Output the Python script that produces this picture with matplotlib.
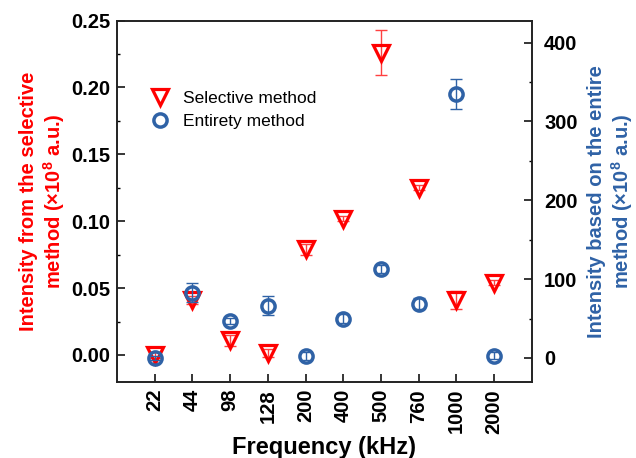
import numpy as np
import matplotlib
matplotlib.use("Agg")
import matplotlib.pyplot as plt
from matplotlib.lines import Line2D
from matplotlib.ticker import MultipleLocator, FormatStrFormatter

plt.rcParams['font.family'] = ['Liberation Sans', 'DejaVu Sans']
plt.rcParams['mathtext.fontset'] = 'custom'
plt.rcParams['mathtext.rm'] = 'Liberation Sans:bold'
plt.rcParams['mathtext.bf'] = 'Liberation Sans:bold'

# Frequencies (categorical) and measured intensities
freqs = ['22', '44', '98', '128', '200', '400', '500', '760', '1000', '2000']
selective = [0.000, 0.041, 0.011, 0.0015, 0.079, 0.102, 0.226, 0.125, 0.041, 0.054]
selective_err = [0.002, 0.003, 0.004, 0.003, 0.004, 0.002, 0.017, 0.002, 0.007, 0.002]
entirety = [0, 83, 47, 66, 3, 50, 113, 69, 335, 3]
entirety_err = [3, 12, 4, 12, 5, 6, 5, 7, 19, 4]

red = '#ff0000'
blue = '#2f62a6'

fig = plt.figure(figsize=(6.36, 4.58), dpi=100)
ax = fig.add_axes([0.184, 0.166, 0.652, 0.789])
ax2 = ax.twinx()

x = np.arange(1, len(freqs) + 1)

ax.errorbar(x, selective, yerr=selective_err, fmt='none', ecolor='#ff4040',
            elinewidth=1.0, capsize=4.3, capthick=1.0, zorder=2)
ax.plot(x, selective, linestyle='none', marker='v', ms=12, mfc='none',
        mec=red, mew=2.3, zorder=3)

ax2.errorbar(x, entirety, yerr=entirety_err, fmt='none', ecolor=blue,
             elinewidth=1.0, capsize=4.3, capthick=1.0, zorder=2)
ax2.plot(x, entirety, linestyle='none', marker='o', ms=9.5, mfc='none',
         mec=blue, mew=2.5, zorder=3)

ax.set_xlim(0, 11)
ax.set_ylim(-0.0202, 0.25)
ax2.set_ylim(-30.5, 428)

ax.set_xticks(x)
ax.set_xticklabels(freqs, rotation=90, fontsize=14.5, fontweight='bold')
ax.yaxis.set_major_locator(MultipleLocator(0.05))
ax.yaxis.set_minor_locator(MultipleLocator(0.025))
ax.yaxis.set_major_formatter(FormatStrFormatter('%.2f'))
ax2.yaxis.set_major_locator(MultipleLocator(100))
ax2.yaxis.set_minor_locator(MultipleLocator(50))

ax.tick_params(axis='both', which='major', direction='in', length=5.5, width=1.1, labelsize=14.5)
ax.tick_params(axis='y', which='minor', direction='in', length=2.5, width=1.0)
ax.tick_params(axis='y', which='major', pad=5)
ax.tick_params(axis='x', which='major', pad=5)
ax2.tick_params(axis='y', which='major', direction='in', length=5.5, width=1.1, labelsize=14.5, pad=9)
ax2.tick_params(axis='y', which='minor', direction='in', length=2.5, width=1.0)

for lab in ax.get_yticklabels() + ax2.get_yticklabels():
    lab.set_fontweight('bold')

for a in (ax, ax2):
    for s in a.spines.values():
        s.set_linewidth(1.2)
        s.set_color('#222222')

ax.set_ylabel('Intensity from the selective\nmethod (×$10^{8}$ a.u.)', color=red,
              fontsize=14.5, fontweight='bold', labelpad=3, linespacing=1.15)
ax2.set_ylabel('Intensity based on the entire\nmethod (×$10^{8}$ a.u.)', color=blue,
               fontsize=14.5, fontweight='bold', labelpad=7, linespacing=1.15)
ax.set_xlabel('Frequency (kHz)', fontsize=17, fontweight='bold', labelpad=2)

handles = [
    Line2D([], [], linestyle='none', marker='v', ms=12, mfc='none', mec=red, mew=2.3),
    Line2D([], [], linestyle='none', marker='o', ms=9.5, mfc='none', mec=blue, mew=2.5),
]
ax.legend(handles, ['Selective method', 'Entirety method'], loc='upper left',
          bbox_to_anchor=(0.025, 0.85), frameon=False, fontsize=12.5,
          handletextpad=0.3, labelspacing=0.5)

fig.savefig('out.png', dpi=100)
